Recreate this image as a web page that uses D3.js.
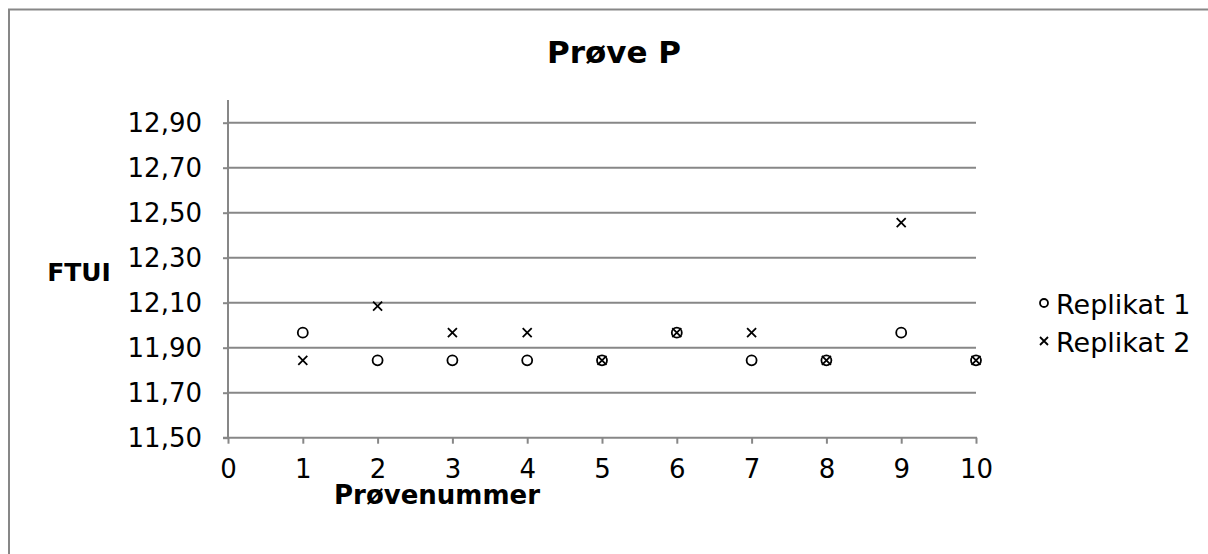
<!DOCTYPE html>
<html>
<head>
<meta charset="utf-8">
<script src="https://cdn.jsdelivr.net/npm/d3@7"></script>
<style>
  html, body { margin: 0; padding: 0; background: #fff; }
  svg { display: block; }
  text { font-family: "DejaVu Sans", Verdana, sans-serif; fill: #000; }
</style>
</head>
<body>
<svg id="chart" width="1208" height="554"></svg>
<script>
// Sample numbers (x) and the two replicate measurements (FTUI)
const sampleNumbers = [1, 2, 3, 4, 5, 6, 7, 8, 9, 10];
const replikat1 = [11.967, 11.844, 11.844, 11.844, 11.844, 11.967, 11.844, 11.844, 11.967, 11.844];
const replikat2 = [11.844, 12.085, 11.967, 11.967, 11.844, 11.967, 11.967, 11.844, 12.456, 11.844];
const yTicks = [11.5, 11.7, 11.9, 12.1, 12.3, 12.5, 12.7, 12.9];
const xTicks = [0, 1, 2, 3, 4, 5, 6, 7, 8, 9, 10];
const seriesNames = ["Replikat 1", "Replikat 2"];

const svg = d3.select("#chart");
const grey = "#878787";

// Outer chart frame
svg.append("rect")
  .attr("x", 9).attr("y", 9.5)
  .attr("width", 1220).attr("height", 570)
  .attr("fill", "#fff")
  .attr("stroke", grey).attr("stroke-width", 2);

const plot = { left: 228, right: 976, top: 100, bottom: 437.7 };

const x = d3.scaleLinear().domain([0, 10]).range([plot.left, plot.right]);
const y = d3.scaleLinear().domain([11.5, 12.9]).range([plot.bottom, 122.7]);

// Horizontal gridlines
svg.append("g")
  .selectAll("line")
  .data(yTicks.slice(1))
  .join("line")
  .attr("x1", plot.left).attr("x2", plot.right)
  .attr("y1", d => y(d)).attr("y2", d => y(d))
  .attr("stroke", grey).attr("stroke-width", 2);

const fmt = d => d3.format(".2f")(d).replace(".", ",");

// Y axis
const yAxis = svg.append("g")
  .attr("transform", `translate(${plot.left},0)`)
  .call(d3.axisLeft(y).tickValues(yTicks).tickFormat(fmt).tickSize(5).tickPadding(21).tickSizeOuter(0));
yAxis.select(".domain").remove();
yAxis.append("line")
  .attr("x1", 0).attr("x2", 0)
  .attr("y1", plot.top).attr("y2", plot.bottom + 1)
  .attr("stroke", grey).attr("stroke-width", 2);
yAxis.selectAll(".tick line").attr("stroke", grey).attr("stroke-width", 2);
yAxis.selectAll(".tick text")
  .attr("font-size", 26)
  .attr("font-family", "DejaVu Sans, Verdana, sans-serif")
  .attr("fill", "#000");

// X axis
const xAxis = svg.append("g")
  .attr("transform", `translate(0,${plot.bottom})`)
  .call(d3.axisBottom(x).tickValues(xTicks).tickFormat(d3.format("d")).tickSize(6).tickPadding(16).tickSizeOuter(0));
xAxis.select(".domain").remove();
xAxis.append("line")
  .attr("x1", plot.left - 5).attr("x2", plot.right + 1)
  .attr("y1", 0).attr("y2", 0)
  .attr("stroke", grey).attr("stroke-width", 2);
xAxis.selectAll(".tick line").attr("stroke", grey).attr("stroke-width", 2);
xAxis.selectAll(".tick text")
  .attr("font-size", 26)
  .attr("font-family", "DejaVu Sans, Verdana, sans-serif")
  .attr("fill", "#000");

// Titles
svg.append("text")
  .attr("x", 614).attr("y", 63)
  .attr("text-anchor", "middle")
  .attr("font-weight", "bold").attr("font-size", 31)
  .text("Prøve P");

svg.append("text")
  .attr("x", 437).attr("y", 504)
  .attr("text-anchor", "middle")
  .attr("font-weight", "bold").attr("font-size", 26)
  .text("Prøvenummer");

svg.append("text")
  .attr("x", 79).attr("y", 281)
  .attr("text-anchor", "middle")
  .attr("font-weight", "bold").attr("font-size", 25)
  .text("FTUI");

// Marker shapes
function drawCircle(g, cx, cy, r) {
  g.append("circle").attr("cx", cx).attr("cy", cy).attr("r", r)
    .attr("fill", "none").attr("stroke", "#000").attr("stroke-width", 1.8);
}
function drawCross(g, cx, cy, s) {
  g.append("path")
    .attr("d", `M${cx - s},${cy - s}L${cx + s},${cy + s}M${cx - s},${cy + s}L${cx + s},${cy - s}`)
    .attr("fill", "none").attr("stroke", "#000").attr("stroke-width", 1.8);
}

const marks = svg.append("g");
sampleNumbers.forEach((n, i) => {
  drawCircle(marks, x(n), y(replikat1[i]), 5);
});
sampleNumbers.forEach((n, i) => {
  drawCross(marks, x(n), y(replikat2[i]), 4.5);
});

// Legend
const legend = svg.append("g");
const legendY = [314, 352];
seriesNames.forEach((name, i) => {
  const ly = legendY[i];
  if (i === 0) {
    drawCircle(legend, 1044, ly - 11, 4);
  } else {
    drawCross(legend, 1044, ly - 11, 4);
  }
  legend.append("text")
    .attr("x", 1056).attr("y", ly)
    .attr("font-size", 27)
    .text(name);
});
</script>
</body>
</html>
